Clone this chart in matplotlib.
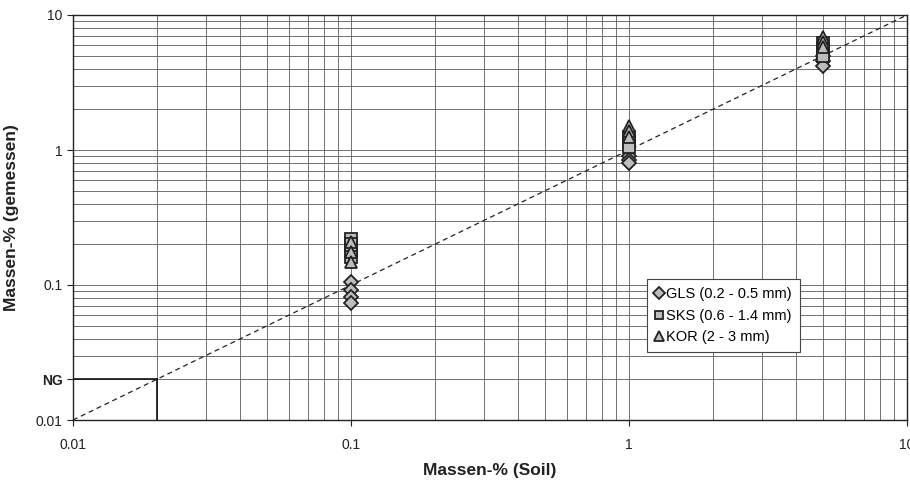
import matplotlib
matplotlib.use("Agg")
import matplotlib.pyplot as plt
from matplotlib.ticker import LogLocator, NullFormatter, FixedLocator, FixedFormatter
import numpy as np

plt.rcParams['font.family'] = ['Liberation Sans', 'DejaVu Sans']

# Data (Massen-% Soil vs. Massen-% gemessen)
gls_x = [0.1, 0.1, 0.1, 0.1, 1, 1, 1, 5, 5, 5]
gls_y = [0.105, 0.092, 0.082, 0.073, 0.9, 0.85, 0.8, 5.0, 4.6, 4.2]
sks_x = [0.1, 0.1, 0.1, 0.1, 1, 1, 1, 5, 5, 5]
sks_y = [0.22, 0.2, 0.18, 0.16, 1.25, 1.15, 1.05, 6.2, 5.5, 5.0]
kor_x = [0.1, 0.1, 0.1, 1, 1, 1, 5, 5, 5]
kor_y = [0.21, 0.175, 0.148, 1.5, 1.38, 1.25, 6.9, 6.3, 5.8]

labels = ['GLS (0.2 - 0.5 mm)', 'SKS (0.6 - 1.4 mm)', 'KOR (2 - 3 mm)']
ng_value = 0.02
ytick_vals = [0.01, ng_value, 0.1, 1, 10]
ytick_labels = ['0.01', 'NG', '0.1', '1', '10']
xtick_vals = [0.01, 0.1, 1, 10]
xtick_labels = ['0.01', '0.1', '1', '10']

fig = plt.figure(figsize=(9.10, 4.82), dpi=100)
ax = fig.add_axes([73/910, 1 - 420/482, (907 - 73)/910, (420 - 15)/482])
ax.set_xscale('log')
ax.set_yscale('log')
ax.set_xlim(0.01, 10)
ax.set_ylim(0.01, 10)

# grid
ax.xaxis.set_minor_locator(LogLocator(base=10, subs=np.arange(2, 10)))
ax.yaxis.set_minor_locator(LogLocator(base=10, subs=np.arange(2, 10)))
ax.xaxis.set_minor_formatter(NullFormatter())
ax.yaxis.set_minor_formatter(NullFormatter())
ax.grid(True, which='both', color='#5a5a5a', linewidth=0.6)
ax.set_axisbelow(True)

ax.xaxis.set_major_locator(FixedLocator(xtick_vals))
ax.xaxis.set_major_formatter(FixedFormatter(xtick_labels))
ax.yaxis.set_major_locator(FixedLocator(ytick_vals))
ax.yaxis.set_major_formatter(FixedFormatter(ytick_labels))
ax.tick_params(axis='both', which='major', labelsize=10, colors='#222222', length=4, width=0.8)
ax.tick_params(axis='both', which='minor', length=0)
ax.tick_params(axis='x', pad=9)
for lbl in ax.get_yticklabels():
    if lbl.get_text() == 'NG':
        lbl.set_fontweight('bold')

for s in ax.spines.values():
    s.set_color('#222222')
    s.set_linewidth(1.0)

# NG box
ax.plot([0.01, ng_value], [ng_value, ng_value], color='#111111', lw=1.2, zorder=3)
ax.plot([ng_value, ng_value], [0.01, ng_value], color='#111111', lw=1.2, zorder=3)

# 1:1 line
ax.plot([0.01, 10], [0.01, 10], color='#222222', lw=0.9, ls=(0, (4, 3)), zorder=3)

fc = '#bdbdbd'
ec = '#222222'
ax.plot(gls_x, gls_y, ls='none', marker='D', ms=7.5, mfc=fc, mec=ec, mew=1.3, zorder=4, label=labels[0])
ax.plot(sks_x, sks_y, ls='none', marker='s', ms=8, mfc=fc, mec=ec, mew=1.3, zorder=5, label=labels[1])
ax.plot(kor_x, kor_y, ls='none', marker='^', ms=9, mfc=fc, mec=ec, mew=1.3, zorder=6, label=labels[2])

leg = ax.legend(loc='lower left', bbox_to_anchor=(0.688, 0.168), fontsize=10.5,
                frameon=True, fancybox=False, edgecolor='#444444', framealpha=1,
                handlelength=0.6, handletextpad=0.2, borderpad=0.55, labelspacing=0.5,
                markerscale=0.75, borderaxespad=0)
leg.get_frame().set_linewidth(0.8)

ax.set_xlabel('Massen-% (Soil)', fontsize=12.5, fontweight='bold', color='#222222', labelpad=8)
ax.set_ylabel('Massen-% (gemessen)', fontsize=12.5, fontweight='bold', color='#222222', labelpad=12)

fig.savefig('out.png', dpi=100)
